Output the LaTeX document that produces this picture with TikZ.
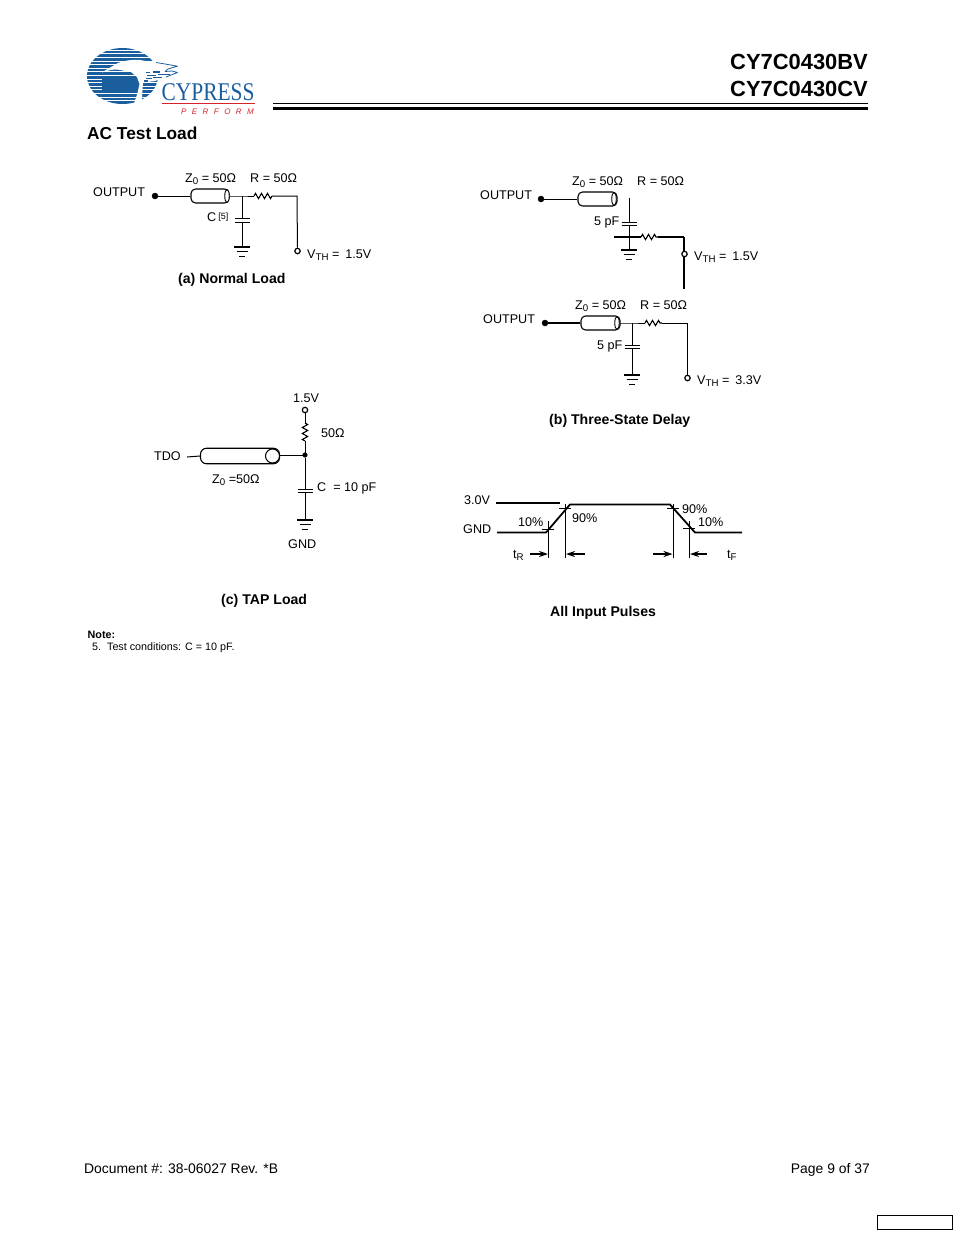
\documentclass[tikz,border=0pt]{standalone}
\usepackage{fontspec}
\setmainfont{Liberation Sans}
\newfontfamily\logoserif{Liberation Serif}
\newfontfamily\logoperf[LetterSpace=68]{Liberation Sans}
\usetikzlibrary{decorations.pathmorphing,arrows.meta,shapes.geometric}
\definecolor{logoblue}{HTML}{1B5E9E}
\definecolor{logored}{HTML}{D8232A}
\newcommand{\lowsub}[1]{\raisebox{-2.8pt}{\fontsize{9.7}{11}\selectfont #1}}
\newcommand{\capsign}[1]{%
  \draw[wire] (#1)++(-7.5,0) -- ++(15,0);}
\newcommand{\gndsign}[2][0]{%
  \draw[line width=#1pt+1.1pt] (#2)++(-8,0) -- ++(16,0);
  \draw[wire] (#2)++(-5.5,4.5) -- ++(11,0);
  \draw[wire] (#2)++(-3,9) -- ++(6,0);}
\tikzset{
  x=1pt,y=-1pt,
  wire/.style={line width=1pt,line cap=butt},
  hv/.style={line width=1.8pt},
  lab/.style={anchor=base west,inner sep=0,font=\fontsize{12.6}{14}\selectfont},
  boldlab/.style={anchor=base west,inner sep=0,font=\fontsize{14.1}{16}\selectfont\bfseries},
  footer/.style={anchor=base west,inner sep=0,font=\fontsize{13.9}{16}\selectfont},
  small/.style={anchor=base west,inner sep=0,font=\fontsize{10.75}{12}\selectfont},
  dotb/.style={circle,fill=black,draw=black,inner sep=0,minimum size=6pt},
  dots/.style={circle,fill=black,draw=black,inner sep=0,minimum size=4.6pt},
  open/.style={circle,fill=white,draw=black,line width=1.2pt,inner sep=0,minimum size=5.4pt},
  cable/.style={draw,line width=1.1pt,rounded corners=4.5pt,inner sep=0,fill=white},
  cabend/.style={ellipse,draw,line width=0.9pt,inner sep=0,fill=white},
  res/.style={line width=1.1pt,decorate,decoration={zigzag,amplitude=2.6pt,segment length=6pt}},
  arr/.style={line width=1.3pt,-{Stealth[length=9pt,width=6pt]}},
}
\begin{document}
\begin{tikzpicture}
\useasboundingbox (0,0) rectangle (954,1235);
\fill[white] (0,0) rectangle (954,1235);

% ---- logo
\begin{scope}
  \clip (122.5,76) ellipse [x radius=35.5, y radius=28];
  \foreach \yy in {48.5,52.1,55.7,59.3,62.9,66.5,70.1,73.7,77.3,80.9,84.5,88.1,91.7,95.3,98.9,102.5}
    \fill[logoblue] (80,\yy-1.25) rectangle (160,\yy+1.25);
  \foreach \yy in {73.7,77.3,80.9,84.5,88.1,91.7}
    \fill[logoblue] (102,\yy-1.7) rectangle (142,\yy+1.7);
\end{scope}
\fill[white] (102,72.5) .. controls (107,69) and (113,66) .. (118,63)
  .. controls (124,60.5) and (132,59.5) .. (140,60) -- (151,62) -- (165,63.5) -- (178,66)
  -- (168,69) -- (165,71.5) -- (172,71) -- (178,72.5) -- (166,77) -- (155,81) -- (147,82)
  -- (143,83) -- (142.5,90) -- (141.5,105) -- (133.5,105) -- (137.5,93) -- (139.5,84)
  -- (137,77) -- (131,72) -- (117,69.5) .. controls (112,69.5) and (107,70.5) .. (102,72.5) -- cycle;
\draw[logoblue,line width=.8pt,line join=round] (156,62.5) -- (165,64) -- (177.5,66.2) -- (168,69) -- (165,71.5);
\draw[logoblue,line width=.8pt,line join=round] (165,71.5) -- (172,71) -- (177.5,72.5) -- (166,77);
\foreach \xa/\xb/\yy in {146/150/72.5, 153/160/72, 147/156/75.5, 158/170/74.5, 146/152/78.5, 153/162/77.5, 144/148/81}
  \fill[logoblue] (\xa,\yy-.55) rectangle (\xb,\yy+.55);
\node[inner sep=0,anchor=base west,text=logoblue] (logotext) at (161.5,100)
  {\scalebox{0.84}[1]{\fontsize{25.5}{26}\logoserif CYPRESS}};
\coordinate (lr1) at (162,103.5);
\coordinate (lr2) at (255,103.5);
\draw[logored,line width=.9pt] (lr1) -- (lr2);
\node[inner sep=0,anchor=base west,text=logored] (logoperf) at (181,114)
  {\fontsize{8}{9}\logoperf\itshape PERFORM};

% ---- header
\node[anchor=base east,inner sep=0,font=\fontsize{21.9}{24}\selectfont\bfseries] (h1) at (868,69) {CY7C0430BV};
\node[anchor=base east,inner sep=0,font=\fontsize{21.9}{24}\selectfont\bfseries] (h2) at (868,96) {CY7C0430CV};
\coordinate (ru1) at (273,103.5); \coordinate (ru2) at (868,103.5);
\coordinate (ru3) at (273,108.5); \coordinate (ru4) at (868,108.5);
\draw[line width=1pt] (ru1) -- (ru2);
\draw[line width=2.4pt] (ru3) -- (ru4);
\node[anchor=base west,inner sep=0,font=\fontsize{17.3}{19}\selectfont\bfseries] (title) at (87,139) {AC Test Load};

% ---- (a) normal load
\node[lab] (aout) at (93,196) {OUTPUT};
\node[dotb] (ad) at (155,196) {};
\node[cable,minimum width=38pt,minimum height=14pt] (ac) at (210,196) {};
\node[cabend,minimum width=4.5pt,minimum height=13pt] (ace) at (227,196) {};
\coordinate (aj) at (242,196);
\coordinate (ar1) at (254,196); \coordinate (ar2) at (272,196);
\coordinate (ac1) at (297,196);
\node[open] (av) at (297.5,251) {};
\coordinate (ap1) at (242,218); \coordinate (ap2) at (242,222); \coordinate (ag) at (242,247);
\draw[wire] (ad) -- (ac.west);
\draw[wire] (ace.east) -- (aj) -- (ar1);
\draw[res] (ar1) -- (ar2);
\draw[wire] (ar2) -- (ac1) -- (av);
\draw[wire] (aj) -- (ap1); \draw[wire] (ap2) -- (ag);
\capsign{ap1} \capsign{ap2} \gndsign{ag}
\node[lab] (az) at (185,182) {Z\lowsub{0} = 50Ω};
\node[lab] (ar) at (250,182) {R = 50Ω};
\node[lab] (acl) at (207,221) {C\,\raisebox{.3ex}{\fontsize{9}{10}\selectfont[5]}};
\node[lab] (avl) at (307,258) {V\lowsub{TH} =\kern6pt 1.5V};
\node[boldlab] (acap) at (178,283) {(a) Normal Load};

% ---- (b) top
\node[lab] (bout) at (480,199) {OUTPUT};
\node[dotb] (bd) at (541,199) {};
\node[cable,minimum width=39pt,minimum height=14pt] (bc) at (597.5,199) {};
\node[cabend,minimum width=4.5pt,minimum height=13pt] (bce) at (614,199) {};
\coordinate (bt) at (629,198); \coordinate (bp1) at (629,222); \coordinate (bp2) at (629,225);
\coordinate (bg) at (629,250);
\coordinate (bl) at (614,237); \coordinate (br1) at (641,237); \coordinate (br2) at (658,237);
\coordinate (bc1) at (684,237); \coordinate (be) at (684,289);
\draw[wire] (bd) -- (bc.west);
\draw[wire] (bt) -- (bp1); \draw[wire] (bp2) -- (bg);
\capsign{bp1} \capsign{bp2} \gndsign{bg}
\draw[line width=1.2pt] (bl) -- (br1);
\draw[res] (br1) -- (br2);
\draw[line width=1.3pt] (br2) -- (bc1);
\draw[hv] (bc1) -- (be);
\node[open] (bv) at (684.5,254) {};
\node[lab] (bz) at (572,185) {Z\lowsub{0} = 50Ω};
\node[lab] (brl) at (637,185) {R = 50Ω};
\node[lab] (bcl) at (594,225) {5 pF};
\node[lab] (bvl) at (694,260) {V\lowsub{TH} =\kern6pt 1.5V};

% ---- (b) lower
\node[lab] (cout) at (483,323) {OUTPUT};
\node[dotb] (cd) at (545,323) {};
\node[cable,minimum width=39pt,minimum height=14pt] (cc) at (600.5,323) {};
\node[cabend,minimum width=4.5pt,minimum height=13pt] (cce) at (617,323) {};
\coordinate (cj) at (632,323);
\coordinate (cr1) at (645,323); \coordinate (cr2) at (662,323);
\coordinate (cc1) at (687.5,323);
\node[open] (cv) at (687.5,378) {};
\coordinate (cp1) at (632,345); \coordinate (cp2) at (632,348); \coordinate (cg) at (632,375);
\draw[hv] (cd) -- (cc.west);
\draw[wire] (cce.east) -- (cj) -- (cr1);
\draw[res] (cr1) -- (cr2);
\draw[wire] (cr2) -- (cc1) -- (cv);
\draw[wire] (cj) -- (cp1); \draw[wire] (cp2) -- (cg);
\capsign{cp1} \capsign{cp2} \gndsign[0.6]{cg}
\node[lab] (cz) at (575,309) {Z\lowsub{0} = 50Ω};
\node[lab] (crl) at (640,309) {R = 50Ω};
\node[lab] (ccl) at (597,349.5) {5 pF};
\node[lab] (cvl) at (697,384) {V\lowsub{TH} =\kern6pt 3.3V};
\node[boldlab] (ccap) at (549,424) {(b) Three-State Delay};

% ---- (c) TAP load
\node[lab] (dv) at (293,402) {1.5V};
\node[open] (dt) at (305,410) {};
\coordinate (dr1) at (305,423); \coordinate (dr2) at (305,441);
\node[dots] (dj) at (305,455) {};
\coordinate (dp1) at (305,489); \coordinate (dp2) at (305,492); \coordinate (dg) at (305,520);
\node[cable,rounded corners=6pt,minimum width=79pt,minimum height=15.5pt,line width=1.1pt] (dc) at (240,456) {};
\node[circle,draw,line width=1pt,inner sep=0,minimum size=14pt,fill=white] (dce) at (272.5,456) {};
\node[lab] (dtdo) at (154,460) {TDO};
\coordinate (ds) at (187,457);
\draw[wire] (ds) -- (dc.west);
\draw[wire] (dc.east |- dj) -- (dj);
\draw[wire] (dt) -- (dr1);
\draw[res] (dr1) -- (dr2);
\draw[wire] (dr2) -- (dj);
\draw[wire] (dj) -- (dp1); \draw[wire] (dp2) -- (dg);
\capsign{dp1} \capsign{dp2} \gndsign{dg}
\node[lab] (dl) at (321,437) {50Ω};
\node[lab] (dz) at (212,483) {Z\lowsub{0} =50Ω};
\node[lab] (dcl) at (317,491) {C~~= 10 pF};
\node[lab] (dgnd) at (288,548) {GND};
\node[boldlab] (dcap) at (221,604) {(c) TAP Load};

% ---- input pulses
\node[lab] (e3) at (464,504.5) {3.0V};
\node[lab] (eg) at (463,533) {GND};
\coordinate (e1a) at (496,503); \coordinate (e1b) at (560,503);
\coordinate (p1) at (497,532.5); \coordinate (p2) at (546,532.5); \coordinate (p3) at (570,504.5);
\coordinate (p4) at (670,504.5); \coordinate (p5) at (695,532.5); \coordinate (p6) at (742,532.5);
\draw[hv] (e1a) -- (e1b);
\draw[hv,line join=round] (p1) -- (p2) -- (p3) -- (p4) -- (p5) -- (p6);
\foreach \nm/\xx/\ya/\yt in {v1/548/521/529, v2/565/504/508, v3/673/504/508, v4/689/521/528}{
  \coordinate (\nm t) at (\xx,\ya);
  \coordinate (\nm b) at (\xx,558);
  \coordinate (\nm l) at (\xx-6,\yt);
  \coordinate (\nm r) at (\xx+6,\yt);
  \draw[line width=.9pt] (\nm t) -- (\nm b);
  \draw[line width=.9pt] (\nm l) -- (\nm r);
}
\coordinate (a1) at (530,554); \coordinate (a1e) at (548,554);
\coordinate (a2) at (585,554); \coordinate (a2e) at (566,554);
\coordinate (a3) at (653,554); \coordinate (a3e) at (672.5,554);
\coordinate (a4) at (707,554); \coordinate (a4e) at (690,554);
\draw[arr] (a1) -- (a1e);
\draw[arr] (a2) -- (a2e);
\draw[arr] (a3) -- (a3e);
\draw[arr] (a4) -- (a4e);
\node[lab] (et) at (513,558) {t\lowsub{R}};
\node[lab] (etf) at (727,558) {t\lowsub{F}};
\node[lab] (e10a) at (518,526) {10\%};
\node[lab] (e90a) at (572,522) {90\%};
\node[lab] (e90b) at (682,513) {90\%};
\node[lab] (e10b) at (698,526) {10\%};
\node[boldlab] (ecap) at (550,616) {All Input Pulses};

% ---- note + footer
\node[anchor=base west,inner sep=0,font=\fontsize{10.75}{12}\selectfont\bfseries] (note) at (87.5,638) {Note:};
\node[small] (note5) at (92,650) {5.~~Test conditions: C = 10 pF.};
\node[footer] (fl) at (84,1173) {Document \#: 38-06027 Rev. *B};
\node[footer,anchor=base east] (fr) at (870,1173) {Page 9 of 37};
\node[draw,line width=1pt,inner sep=0,minimum width=75.5pt,minimum height=14pt] (fbox) at (915,1222) {};
\end{tikzpicture}
\end{document}
